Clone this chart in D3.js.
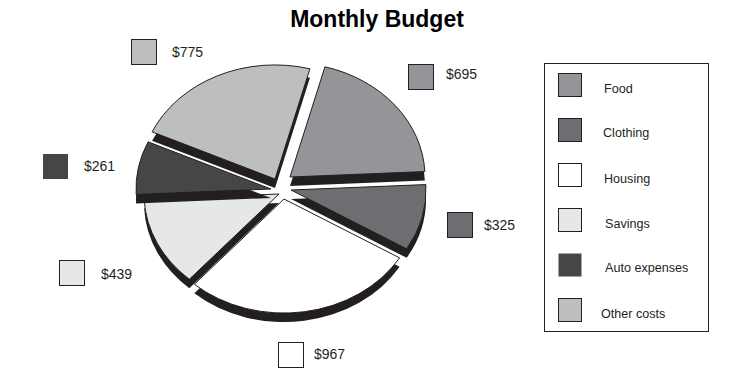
<!DOCTYPE html>
<html>
<head>
<meta charset="utf-8">
<script src="https://cdn.jsdelivr.net/npm/d3@7"></script>
<style>
  body { margin: 0; background: #fff; }
  text { font-family: "Liberation Sans", Arial, sans-serif; fill: #231f20; }
</style>
</head>
<body>
<svg id="chart"></svg>
<script>
const categories = ['Food', 'Clothing', 'Housing', 'Savings', 'Auto expenses', 'Other costs']
const amounts = [695, 325, 967, 439, 261, 775]
const colors = ['#939598', '#6d6e71', '#ffffff', '#e6e7e8', '#464648', '#bcbec0']

const width = 742
const height = 387
const rx = 135
const squash = 0.845
const shadow = {x: 0, y: 9}

// where each exploded slice has its tip
const tips = [[290, 177], [291, 190], [284, 199], [279, 194], [271, 189], [275, 179]]
// callout swatch corner, then label start
const callouts = [[408.5, 64.5, 446, 79], [447.5, 212.5, 484, 230], [278.5, 342.5, 314, 359], [59.5, 260.5, 101, 279], [43, 154, 84, 171], [131.5, 39.5, 172, 57]]
const legendX = [604, 603, 604, 605, 605, 601]
const legendDy = [0, -1, 0, 0, -1, 0]
// painted back to front so the shadows fall over the neighbours like the original
const paintOrder = [2, 1, 0, 3, 4, 5]

const SVG = d3.select('#chart').attr('width', width).attr('height', height)

SVG.append('text')
  .attr('x', 377).attr('y', 27)
  .attr('text-anchor', 'middle')
  .style('font-size', '23px').style('font-weight', 'bold')
  .style('fill', '#000')
  .text('Monthly Budget')

const pie = d3.pie().sort(null)
  .startAngle(15 * Math.PI / 180)
  .endAngle(375 * Math.PI / 180)
const arcs = pie(amounts)
const arc = d3.arc().innerRadius(0).outerRadius(rx)

const slices = SVG.append('g')
  .selectAll('g')
  .data(paintOrder)
  .join('g')

slices.append('path')
  .attr('transform', i => `translate(${tips[i][0] + shadow.x} ${tips[i][1] + shadow.y}) scale(1 ${squash})`)
  .attr('d', i => arc(arcs[i]))
  .attr('fill', '#231f20')

slices.append('path')
  .attr('transform', i => `translate(${tips[i][0]} ${tips[i][1]}) scale(1 ${squash})`)
  .attr('d', i => arc(arcs[i]))
  .attr('fill', i => colors[i])
  .attr('stroke', '#231f20')
  .attr('stroke-width', 1)
  .attr('vector-effect', 'non-scaling-stroke')

// value callouts
const call = SVG.append('g').selectAll('g').data(categories).join('g')
call.append('rect')
  .attr('x', (d, i) => callouts[i][0])
  .attr('y', (d, i) => callouts[i][1])
  .attr('width', 25).attr('height', 25)
  .attr('fill', (d, i) => colors[i])
  .attr('stroke', (d, i) => d === 'Auto expenses' ? 'none' : '#231f20')
call.append('text')
  .attr('x', (d, i) => callouts[i][2])
  .attr('y', (d, i) => callouts[i][3])
  .style('font-size', '14px')
  .text((d, i) => '$' + amounts[i])

// legend
SVG.append('rect')
  .attr('x', 544.5).attr('y', 63.5)
  .attr('width', 164).attr('height', 268)
  .attr('fill', '#fff').attr('stroke', '#231f20')

const legendY = d3.scalePoint().domain(categories).range([85.5, 310.5])
const legend = SVG.append('g').selectAll('g').data(categories).join('g')
legend.append('rect')
  .attr('x', 558.5)
  .attr('y', d => Math.floor(legendY(d) - 12) + 0.5)
  .attr('width', 23).attr('height', 23)
  .attr('fill', (d, i) => colors[i])
  .attr('stroke', (d, i) => d === 'Auto expenses' ? 'none' : '#231f20')
legend.append('text')
  .attr('x', (d, i) => legendX[i])
  .attr('y', (d, i) => legendY(d) + 7 + legendDy[i])
  .style('font-size', '12.6px')
  .text(d => d)
</script>
</body>
</html>
